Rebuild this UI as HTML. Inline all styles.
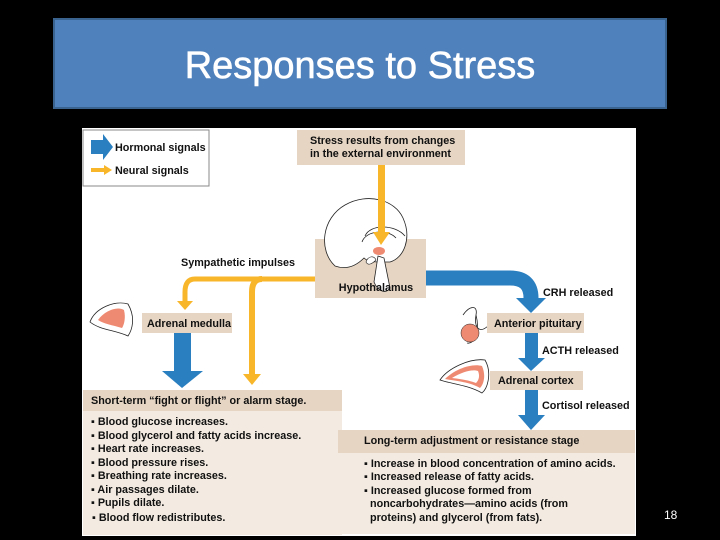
<!DOCTYPE html>
<html><head><meta charset="utf-8"><style>
html,body{margin:0;padding:0;background:#000;width:720px;height:540px;overflow:hidden}
svg text{font-family:"Liberation Sans",Arial,sans-serif;font-size:10.8px;font-weight:bold;fill:#111}
</style></head><body>
<svg width="720" height="540" xmlns="http://www.w3.org/2000/svg">
<rect x="0" y="0" width="720" height="540" fill="#000"/>
<rect x="54" y="19" width="612" height="89" fill="#4f81bd" stroke="#3a6390" stroke-width="2"/>
<text x="360" y="78" text-anchor="middle" style="font-size:38px;font-weight:normal;fill:#fff;stroke:#fff;stroke-width:0.6px">Responses to Stress</text>
<rect x="82" y="128" width="554" height="408" fill="#fff"/>
<!-- legend -->
<rect x="83" y="130" width="126" height="56" fill="#fff" stroke="#888"/>
<polygon points="91,140 103,140 103,134 113,147 103,160 103,154 91,154" fill="#2a7fc0"/>
<polygon points="91,168 104,168 104,165 112,170 104,175 104,172 91,172" fill="#f8b62a"/>
<text x="115" y="151">Hormonal signals</text>
<text x="115" y="174">Neural signals</text>
<!-- stress box -->
<rect x="297" y="130" width="168" height="35" fill="#e6d5c3"/>
<text x="310" y="144">Stress results from changes</text>
<text x="310" y="157">in the external environment</text>
<!-- hypothalamus box -->
<rect x="315" y="239" width="111" height="59" fill="#e6d5c3"/>
<!-- brain -->
<path d="M335,266 C318,250 322,218 345,205 C368,192 395,200 403,218 C412,238 404,258 390,262 L383,262 C376,262 368,262 364,258 C356,266 346,270 335,266Z" fill="#fff" stroke="#222" stroke-width="0.8"/>
<path d="M365,236 C370,224 395,224 405,236 M362,242 C366,230 388,229 396,238" fill="none" stroke="#222" stroke-width="0.8"/>
<path d="M378,256 L374,282 C378,292 386,294 390,288 L384,258Z" fill="#fff" stroke="#222" stroke-width="0.8"/>
<path d="M366,262 C368,256 374,255 376,260 C372,264 368,266 366,262Z" fill="#fff" stroke="#222" stroke-width="0.6"/>
<ellipse cx="379" cy="251" rx="6" ry="4" fill="#ef8a72"/>
<rect x="378" y="165" width="7" height="70" fill="#f8b62a"/>
<polygon points="373,232 390,232 381,245" fill="#f8b62a"/>
<text x="376" y="291" text-anchor="middle">Hypothalamus</text>
<!-- sympathetic -->
<text x="181" y="266">Sympathetic impulses</text>
<path d="M315,279 L195,279 Q185,279 185,292 L185,303" fill="none" stroke="#f8b62a" stroke-width="5"/>
<polygon points="177,301 193,301 185,310" fill="#f8b62a"/>
<path d="M262,279 Q252,279 252,292 L252,376" fill="none" stroke="#f8b62a" stroke-width="6"/>
<polygon points="243,374 261,374 252,385" fill="#f8b62a"/>
<!-- CRH arrow -->
<path d="M426,278 L510,278 Q531,278 531,298 L531,300" fill="none" stroke="#2a7fc0" stroke-width="15"/>
<polygon points="516,298 546,298 531,313" fill="#2a7fc0"/>
<text x="543" y="296">CRH released</text>
<!-- adrenal medulla -->
<path d="M90,322 C95,308 115,300 128,304 C136,318 132,330 128,336 C115,330 100,330 90,322Z" fill="#fff" stroke="#222" stroke-width="0.8"/>
<path d="M98,320 C105,310 118,306 124,310 C126,318 124,325 122,328 C112,325 104,324 98,320Z" fill="#ef8a72"/>
<rect x="142" y="313" width="90" height="20" fill="#e6d5c3"/>
<text x="147" y="327">Adrenal medulla</text>
<rect x="174" y="333" width="17" height="40" fill="#2a7fc0"/>
<polygon points="162,371 203,371 182,388" fill="#2a7fc0"/>
<!-- anterior pituitary -->
<path d="M463,315 C470,305 478,305 476,315 C474,325 478,335 488,326 M476,315 C480,330 475,345 467,343" fill="none" stroke="#222" stroke-width="0.8"/>
<circle cx="470" cy="333" r="9" fill="#ef8a72" stroke="#222" stroke-width="0.5"/>
<rect x="487" y="313" width="97" height="20" fill="#e6d5c3"/>
<text x="494" y="327">Anterior pituitary</text>
<rect x="525" y="333" width="13" height="27" fill="#2a7fc0"/>
<polygon points="518,358 545,358 531,371" fill="#2a7fc0"/>
<text x="542" y="354">ACTH released</text>
<!-- adrenal cortex -->
<path d="M440,380 C448,368 470,358 485,360 C492,372 488,388 482,393 C468,385 452,384 440,380Z" fill="#fff" stroke="#222" stroke-width="0.8"/>
<path d="M445,379 C455,369 472,363 482,366 C486,375 484,384 480,388 C470,382 456,381 445,379Z" fill="#ef8a72"/>
<path d="M452,378 C462,372 472,369 478,371 C480,376 479,380 476,383 C468,380 460,379 452,378Z" fill="#fff"/>
<rect x="490" y="371" width="93" height="19" fill="#e6d5c3"/>
<text x="498" y="384">Adrenal cortex</text>
<rect x="525" y="390" width="13" height="27" fill="#2a7fc0"/>
<polygon points="518,415 545,415 531,430" fill="#2a7fc0"/>
<text x="542" y="409">Cortisol released</text>
<!-- short term -->
<rect x="83" y="390" width="259" height="21" fill="#e6d5c3"/>
<rect x="83" y="411" width="259" height="124" fill="#f3ebe1"/>
<text x="91" y="404">Short-term “fight or flight” or alarm stage.</text>
<text x="91" y="425">▪ Blood glucose increases.</text>
<text x="91" y="439">▪ Blood glycerol and fatty acids increase.</text>
<text x="91" y="452">▪ Heart rate increases.</text>
<text x="91" y="466">▪ Blood pressure rises.</text>
<text x="91" y="479">▪ Breathing rate increases.</text>
<text x="91" y="493">▪  Air passages dilate.</text>
<text x="91" y="506">▪ Pupils dilate.</text>
<text x="92" y="521">▪ Blood flow redistributes.</text>
<!-- long term -->
<rect x="338" y="430" width="297" height="23" fill="#e6d5c3"/>
<rect x="338" y="453" width="297" height="81" fill="#f3ebe1"/>
<text x="364" y="444">Long-term adjustment or resistance stage</text>
<text x="364" y="467">▪ Increase in blood concentration of amino acids.</text>
<text x="364" y="480">▪ Increased release of fatty acids.</text>
<text x="364" y="494">▪ Increased glucose formed from</text>
<text x="370" y="507">noncarbohydrates—amino acids (from</text>
<text x="370" y="521">proteins) and glycerol (from fats).</text>
<text x="664" y="519" style="fill:#fff;font-weight:normal;font-size:12px">18</text>
</svg>
</body></html>
